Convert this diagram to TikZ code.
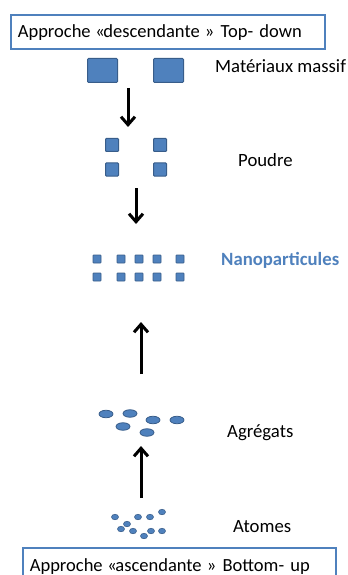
\documentclass[tikz,border=0pt]{standalone}
\usepackage{fontspec}
\setmainfont{Carlito}
\usetikzlibrary{arrows.meta,shapes.geometric}
\definecolor{sqfill}{HTML}{4F81BD}
\definecolor{sqdraw}{HTML}{385D8A}
\definecolor{boxline}{HTML}{4F81BD}
\newcommand{\myopq}{\kern-1.5bp«\kern-1.5bp}
\newcommand{\myclq}{\kern-1bp»}
\begin{document}
\begin{tikzpicture}[x=1bp,y=-1bp,
  lbl/.style={font=\fontsize{18.8}{22}\selectfont, inner sep=0pt},
  box/.style={draw=boxline, line width=1.6bp, fill=white, font=\fontsize{18.6}{22}\selectfont, align=left, inner xsep=7bp, inner ysep=6bp, anchor=north west},
  bigsq/.style={rectangle, draw=sqdraw, fill=sqfill, line width=1bp, inner sep=0pt, minimum width=30bp, minimum height=24bp, rounded corners=1bp},
  medsq/.style={rectangle, draw=sqdraw, fill=sqfill, line width=1bp, inner sep=0pt, minimum width=13bp, minimum height=13bp, rounded corners=0.8bp},
  smsq/.style={rectangle, draw=sqdraw, fill=sqfill, line width=0.8bp, inner sep=0pt, minimum width=8bp, minimum height=8bp, rounded corners=0.6bp},
  agg/.style={ellipse, draw=sqdraw, fill=sqfill, line width=0.8bp, inner sep=0pt, minimum width=14bp, minimum height=7.5bp},
  atom/.style={ellipse, draw=sqdraw, fill=sqfill, line width=0.6bp, inner sep=0pt, minimum width=7bp, minimum height=5.5bp},
  arr/.style={-{Straight Barb[length=8bp,width=14bp,line width=3bp]}, line width=3bp, black}
]
\useasboundingbox (0,0) rectangle (347,575);
% top box
\node[box, text width=300bp, text height=17bp, text depth=5bp] (top) at (10,14) {Approche \myopq descendante \myclq{} Top- down};
% big squares
\node[bigsq] (b1) at (102.5,70.5) {};
\node[bigsq] (b2) at (168.5,70.5) {};
\node[lbl, anchor=west] (lmat) at (215,66) {Matériaux massif};
% arrow 1
\coordinate (a1s) at (128,88);
\coordinate (a1e) at (128,127);
\draw[arr] (a1s) -- (a1e);
% powder
\node[medsq] (p1) at (112,145) {};
\node[medsq] (p2) at (160,145) {};
\node[medsq] (p3) at (112,169.5) {};
\node[medsq] (p4) at (160,169.5) {};
\node[lbl, anchor=west] (lpou) at (238,160) {Poudre};
% arrow 2
\coordinate (a2s) at (136,188);
\coordinate (a2e) at (136,224);
\draw[arr] (a2s) -- (a2e);
% nanoparticles
\foreach \x [count=\i] in {97,121,139,157,180}{
  \node[smsq] (n\i a) at (\x,259) {};
  \node[smsq] (n\i b) at (\x,277) {};
}
\node[lbl, anchor=west, font=\fontsize{18.8}{22}\selectfont\bfseries, text=sqfill] (lnano) at (221,260) {Nanoparticules};
% arrow 3
\coordinate (a3s) at (141,374);
\coordinate (a3e) at (141,322);
\draw[arr] (a3s) -- (a3e);
% aggregates
\node[agg] (g1) at (106,414) {};
\node[agg] (g2) at (130,413.5) {};
\node[agg] (g3) at (123,426.5) {};
\node[agg] (g4) at (153,420) {};
\node[agg] (g5) at (177,420) {};
\node[agg] (g6) at (147,432.5) {};
\node[lbl, anchor=west] (lagg) at (227,433) {Agrégats};
% arrow 4
\coordinate (a4s) at (141,498);
\coordinate (a4e) at (141,446);
\draw[arr] (a4s) -- (a4e);
% atoms
\node[atom] (t1) at (115,517) {};
\node[atom] (t2) at (138,517) {};
\node[atom] (t3) at (150,517) {};
\node[atom] (t4) at (162,512) {};
\node[atom] (t5) at (127,524) {};
\node[atom] (t6) at (121,529) {};
\node[atom] (t7) at (133,531) {};
\node[atom] (t8) at (151,531) {};
\node[atom] (t9) at (162,531) {};
\node[atom] (t10) at (144,536) {};
\node[lbl, anchor=west] (lato) at (233,527) {Atomes};
% bottom box
\node[box, text width=299bp, text height=18bp, text depth=20bp] (bot) at (22,547) {Approche \myopq ascendante \myclq{} Bottom- up};
\end{tikzpicture}
\end{document}
